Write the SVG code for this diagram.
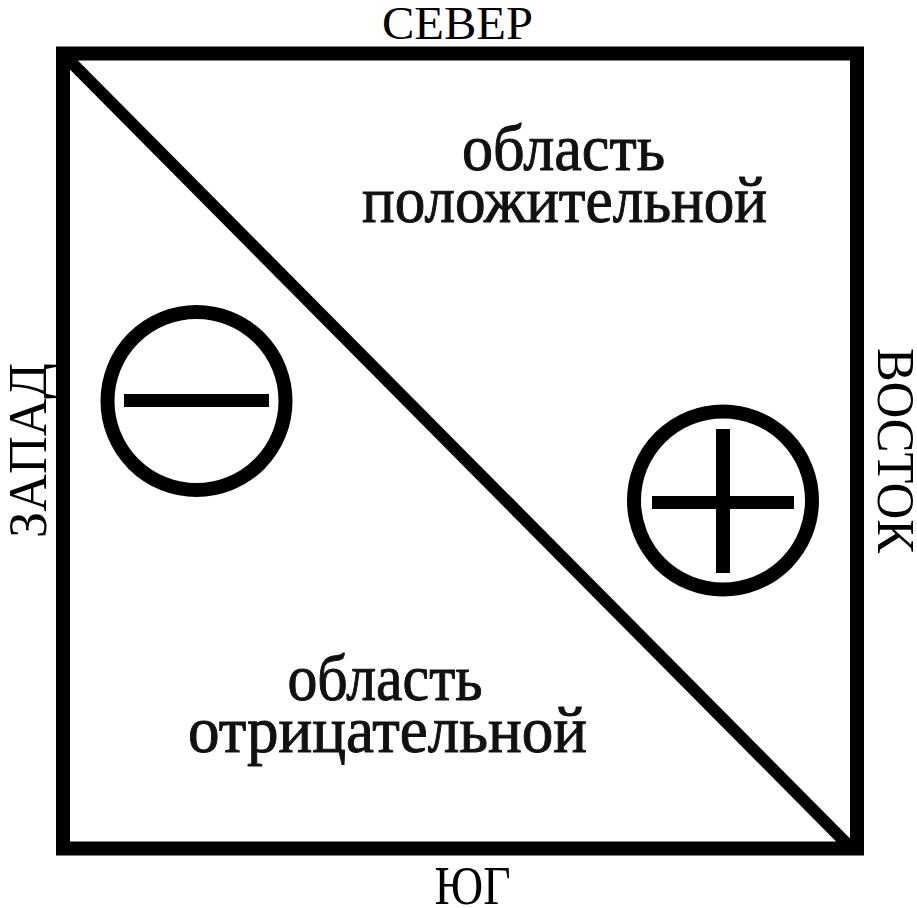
<svg xmlns="http://www.w3.org/2000/svg" width="917" height="908" viewBox="0 0 917 908">
  <style>
    .lbl { font-family: "Liberation Serif", "Times New Roman", serif; fill: #000; }
    .body { font-family: "Liberation Serif", "Times New Roman", serif; font-size: 66px; fill: #111; stroke: #111; stroke-width: 1; text-anchor: middle; }
    .ring { fill: none; stroke: #000; stroke-width: 14; }
    .bar { fill: #000; }
  </style>
  <rect width="917" height="908" fill="#fff"/>
  <g id="frame">
    <rect x="63" y="53.5" width="794" height="795" fill="none" stroke="#000" stroke-width="14"/>
  </g>
  <g id="connectors">
    <line x1="63" y1="54" x2="852" y2="849" stroke="#000" stroke-width="12"/>
  </g>
  <g id="north">
    <text class="lbl" x="457.5" y="39" font-size="47" text-anchor="middle" textLength="151" lengthAdjust="spacingAndGlyphs">СЕВЕР</text>
  </g>
  <g id="south">
    <text class="lbl" x="472.5" y="904" font-size="55" text-anchor="middle" textLength="76" lengthAdjust="spacingAndGlyphs">ЮГ</text>
  </g>
  <g id="west">
    <text class="lbl" transform="translate(46,450.5) rotate(-90)" x="0" y="0" font-size="55" text-anchor="middle" textLength="175" lengthAdjust="spacingAndGlyphs">ЗАПАД</text>
  </g>
  <g id="east">
    <text class="lbl" transform="translate(878,450.5) rotate(90)" x="0" y="0" font-size="53" text-anchor="middle" textLength="205" lengthAdjust="spacingAndGlyphs">ВОСТОК</text>
  </g>
  <g id="positive-label">
    <text class="body" x="563.5" y="170" textLength="203" lengthAdjust="spacingAndGlyphs">область</text>
    <text class="body" x="564.5" y="222" textLength="405" lengthAdjust="spacingAndGlyphs">положительной</text>
  </g>
  <g id="negative-label">
    <text class="body" x="385" y="700" textLength="195" lengthAdjust="spacingAndGlyphs">область</text>
    <text class="body" x="387.5" y="752" textLength="399" lengthAdjust="spacingAndGlyphs">отрицательной</text>
  </g>
  <g id="minus">
    <circle class="ring" cx="196.5" cy="401" r="89"/>
    <rect class="bar" x="124" y="394" width="145" height="13"/>
  </g>
  <g id="plus">
    <circle class="ring" cx="723" cy="500.5" r="89"/>
    <rect class="bar" x="652" y="496" width="142" height="13"/>
    <rect class="bar" x="716" y="429" width="14" height="144"/>
  </g>
</svg>
